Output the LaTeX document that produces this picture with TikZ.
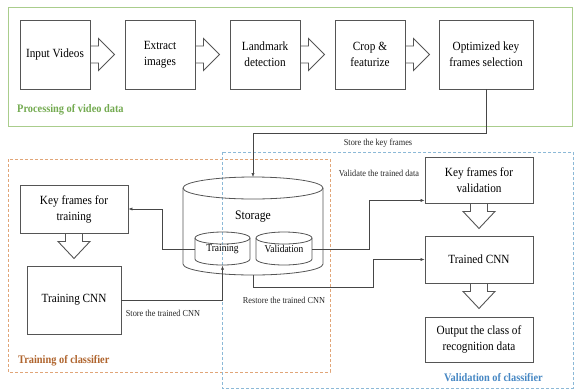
\documentclass[tikz,border=0pt]{standalone}
\usepackage{fontspec}
\setmainfont[FakeStretch=0.9]{Liberation Serif}
\usetikzlibrary{arrows.meta,calc}
\definecolor{edgegray}{RGB}{85,85,85}
\definecolor{linegray}{RGB}{70,70,70}
\definecolor{grpgreen}{RGB}{170,205,140}
\definecolor{txtgreen}{RGB}{115,170,80}
\definecolor{grporange}{RGB}{225,165,120}
\definecolor{txtorange}{RGB}{175,100,45}
\definecolor{grpblue}{RGB}{140,185,215}
\definecolor{txtblue}{RGB}{70,135,195}
\tikzset{
  box/.style={draw=edgegray, line width=0.9pt, inner sep=2pt, align=center,
    font=\fontsize{12.5}{16}\selectfont},
  blk/.style={draw=edgegray, line width=0.9pt, line join=miter},
  conn/.style={draw=linegray, line width=0.6pt, -{Latex[length=4pt,width=3.2pt]}},
  lab/.style={font=\fontsize{9.2}{11}\selectfont, text=black!85, inner sep=1pt},
  grplab/.style={font=\bfseries\fontsize{11.5}{13}\selectfont, inner sep=0pt},
  cyl/.style={draw=edgegray, line width=0.8pt}
}
% block arrow pointing right, starting on a box edge
\newcommand{\rblock}[1]{\draw[blk] (#1) ++(0,-8.5) -- ++(8,0) -- ++(0,-7.5) -- ++(16,16) -- ++(-16,16) -- ++(0,-7.5) -- ++(-8,0);}
% block arrow pointing down, starting on a box edge
\newcommand{\dblock}[1]{\draw[blk] (#1) ++(-8.5,0) -- ++(0,8) -- ++(-7.5,0) -- ++(16,17) -- ++(16,-17) -- ++(-7.5,0) -- ++(0,-8);}
% upright cylinder: centre x, top y, bottom y, x radius, y radius
\newcommand{\upcyl}[5]{%
  \draw[cyl] ({#1-#4},{#2+#5}) -- ({#1-#4},{#3-#5})
    arc[start angle=180, end angle=0, x radius=#4, y radius=#5] -- ({#1+#4},{#2+#5});
  \draw[cyl] (#1,{#2+#5}) ellipse[x radius=#4, y radius=#5];}
\begin{document}
\begin{tikzpicture}[x=1pt,y=-1pt]
\useasboundingbox (0,0) rectangle (580,389);

% group frames
\draw[grpgreen, line width=0.9pt] (8,7) rectangle (572,126);
\draw[grporange, line width=0.8pt, dashed, dash pattern=on 3pt off 2pt] (8,159) rectangle (330,372);
\draw[grpblue, line width=0.8pt, dashed, dash pattern=on 3pt off 2pt] (222,152) rectangle (573,388);
\node[grplab, text=txtgreen, anchor=west] (gp) at (17,110) {Processing of video data};
\node[grplab, text=txtorange, anchor=west] (gt) at (18,361) {Training of classifier};
\node[grplab, text=txtblue, anchor=west] (gv) at (444,378) {Validation of classifier};

% video processing chain
\node[box, minimum width=70pt, minimum height=69pt] (b1) at (55,54.5) {Input Videos};
\node[box, minimum width=70pt, minimum height=69pt] (b2) at (160,54.5) {Extract\\images};
\node[box, minimum width=70pt, minimum height=69pt] (b3) at (265,54.5) {Landmark\\detection};
\node[box, minimum width=70pt, minimum height=69pt] (b4) at (370,54.5) {Crop \&\\featurize};
\node[box, minimum width=94pt, minimum height=69pt] (b5) at (486,54.5) {Optimized key\\frames selection};
\rblock{b1.east}
\rblock{b2.east}
\rblock{b3.east}
\rblock{b4.east}

% storage
\upcyl{253}{177}{275}{70}{11}
\upcyl{222.5}{232}{265}{27.5}{6}
\upcyl{284}{232}{265}{28}{6}
\coordinate (stTop) at (253,177);
\coordinate (stBot) at (253,275);
\node[font=\fontsize{13}{15}\selectfont] (st) at (253,217) {Storage};
\node[inner sep=0pt, minimum width=55pt, minimum height=33pt, font=\fontsize{10.5}{12}\selectfont] (trc) at (222.5,249) {Training};
\node[inner sep=0pt, minimum width=56pt, minimum height=33pt, font=\fontsize{10.5}{12}\selectfont] (vlc) at (284,249) {Validation};

% training side
\node[box, minimum width=108pt, minimum height=48pt] (kft) at (74,209) {Key frames for\\training};
\node[box, minimum width=94pt, minimum height=68pt] (tcnn) at (74,300) {Training CNN};
\dblock{kft.south}

% validation side
\node[box, minimum width=108pt, minimum height=46pt] (kfv) at (479,180) {Key frames for\\validation};
\node[box, minimum width=108pt, minimum height=47pt] (tcv) at (479,259.5) {Trained CNN};
\node[box, minimum width=108pt, minimum height=45pt] (out) at (479,339.5) {Output the class of\\recognition data};
\dblock{kfv.south}
\dblock{tcv.south}

% connectors
\draw[conn] (b5.south) -- ++(0,44) -| (stTop);
\node[lab] (l1) at (378,143) {Store the key frames};
\draw[conn] (trc.west) -- ++(-33,0) |- (kft.east);
\draw[conn] (tcnn.east) -| (trc.south);
\node[lab] (l2) at (163,313) {Store the trained CNN};
\draw[conn] (stBot) -- ++(0,12) -- ++(120,0) |- (tcv.west);
\node[lab] (l3) at (284,300) {Restore the trained CNN};
\draw[conn] (vlc.east) -- ++(57,0) |- ($(kfv.south west)+(0,-3)$);
\node[lab] (l4) at (379,173) {Validate the trained data};
\end{tikzpicture}
\end{document}
